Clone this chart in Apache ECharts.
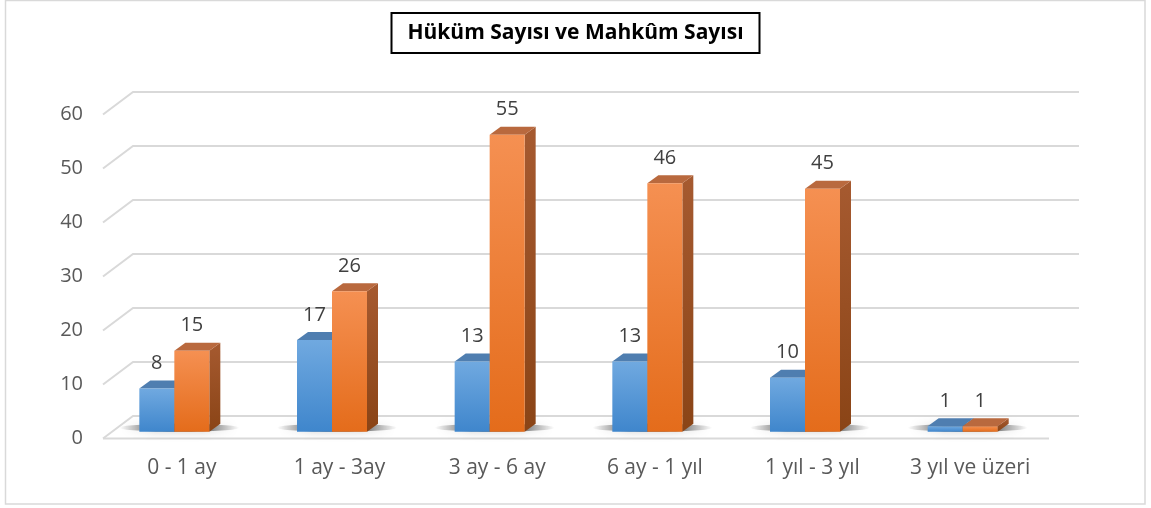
<!DOCTYPE html>
<html>
<head>
<meta charset="utf-8">
<script src="https://cdn.jsdelivr.net/npm/echarts@6/dist/echarts.min.js"></script>
<style>
  html, body { margin: 0; padding: 0; background: #fff; }
  #chart { width: 1151px; height: 508px; }
</style>
</head>
<body>
<div id="chart"></div>
<script>
// chart data
var categories = ['0 - 1 ay', '1 ay - 3ay', '3 ay - 6 ay', '6 ay - 1 yıl', '1 yıl - 3 yıl', '3 yıl ve üzeri'];
var hukum = [8, 17, 13, 13, 10, 1];
var mahkum = [15, 26, 55, 46, 45, 1];
var yTicks = [0, 10, 20, 30, 40, 50, 60];

var FONT = '"Open Sans", "Noto Sans", sans-serif';
// 3d look: depth of the wall and of each bar
var WALL_DX = 30, WALL_DY = 22.5;
var BAR_W = 35, BAR_DX = 11, BAR_DY = 8;
var BAR_SHIFT_X = -7.5, BAR_SHIFT_Y = -6.8;

var chart = echarts.init(document.getElementById('chart'));

function grad(c1, c2) {
  return new echarts.graphic.LinearGradient(0, 0, 0, 1, [
    { offset: 0, color: c1 }, { offset: 1, color: c2 }
  ]);
}

var looks = [
  { front: grad('#70a9e0', '#3f86cc'), top: '#4f7eb0', side: grad('#3f6e9f', '#2f5d8c') },
  { front: grad('#f59052', '#e46c1b'), top: '#b9693e', side: grad('#a65a30', '#8a4416') }
];

function barItem(sIdx) {
  return function (params, api) {
    var i = api.value(0), v = api.value(1);
    var base = api.coord([i, 0]);
    var top = api.coord([i, v]);
    var cx = base[0] + BAR_SHIFT_X;
    var x0 = sIdx === 0 ? cx - BAR_W : cx;
    var x1 = x0 + BAR_W;
    var yb = base[1] + BAR_SHIFT_Y;
    var yt = top[1] + BAR_SHIFT_Y;
    var lk = looks[sIdx];
    return {
      type: 'group',
      children: [
        { type: 'polygon', shape: { points: [[x1, yt], [x1 + BAR_DX, yt - BAR_DY], [x1 + BAR_DX, yb - BAR_DY], [x1, yb]] },
          style: { fill: lk.side } },
        { type: 'polygon', shape: { points: [[x0, yt], [x1, yt], [x1 + BAR_DX, yt - BAR_DY], [x0 + BAR_DX, yt - BAR_DY]] },
          style: { fill: lk.top } },
        { type: 'rect', shape: { x: x0, y: yt, width: BAR_W, height: yb - yt },
          style: { fill: lk.front } },
        { type: 'text', x: x0 + BAR_W / 2, y: yt - 25,
          style: { text: String(v), fill: '#404040', font: '20px ' + FONT, align: 'center', verticalAlign: 'middle' } }
      ]
    };
  };
}

function wallItem(params, api) {
  var t = api.value(0);
  var cs = params.coordSys;
  var L = cs.x, R = cs.x + cs.width;
  var y = api.coord([0, t])[1];
  var kids = [
    { type: 'polyline', shape: { points: [[L, y], [L + WALL_DX, y - WALL_DY], [R + WALL_DX, y - WALL_DY]] },
      style: { stroke: '#d9d9d9', lineWidth: 2, fill: null } }
  ];
  if (t === 0) {
    kids.push({ type: 'line', shape: { x1: L, y1: y, x2: R, y2: y },
      style: { stroke: '#d9d9d9', lineWidth: 2 } });
  }
  return { type: 'group', children: kids };
}

function shadowItem(params, api) {
  var i = api.value(0);
  var base = api.coord([i, 0]);
  var cx = base[0] + BAR_SHIFT_X + 5;
  var cy = base[1] + BAR_SHIFT_Y - 4;
  return {
    type: 'ellipse',
    shape: { cx: cx, cy: cy, rx: 60, ry: 4 },
    style: {
      fill: new echarts.graphic.LinearGradient(0, 0, 1, 0, [
        { offset: 0, color: 'rgba(0,0,0,0)' },
        { offset: 0.3, color: 'rgba(0,0,0,0.55)' },
        { offset: 0.7, color: 'rgba(0,0,0,0.55)' },
        { offset: 1, color: 'rgba(0,0,0,0)' }
      ]),
      shadowBlur: 10, shadowColor: 'rgba(0,0,0,0.35)'
    }
  };
}

var option = {
  animation: false,
  title: {
    text: 'Hüküm Sayısı ve Mahkûm Sayısı',
    left: 'center',
    top: 13,
    padding: [8, 16],
    borderColor: '#000',
    borderWidth: 2,
    textStyle: { fontFamily: FONT, fontSize: 21, fontWeight: 'bold', color: '#000', lineHeight: 24 }
  },
  graphic: [{
    type: 'rect', shape: { x: 5.5, y: 0.5, width: 1139.5, height: 503.5 },
    style: { fill: null, stroke: '#d9d9d9', lineWidth: 1.5 }, silent: true
  }],
  grid: { left: 103, right: 102, top: 114.5, bottom: 69.5 },
  xAxis: {
    type: 'category',
    data: categories,
    axisLine: { show: false },
    axisTick: { show: false },
    axisLabel: { margin: 19, color: '#595959', fontSize: 21, fontFamily: FONT }
  },
  yAxis: {
    type: 'value',
    min: 0, max: 60, interval: 10,
    axisLine: { show: false },
    axisTick: { show: false },
    splitLine: { show: false },
    axisLabel: { margin: 20, color: '#595959', fontSize: 20, fontFamily: FONT }
  },
  series: [
    { type: 'custom', name: 'walls', clip: false, z: 1, silent: true,
      data: yTicks.map(function (t) { return [t]; }), renderItem: wallItem },
    { type: 'custom', name: 'shadows', clip: false, z: 2, silent: true,
      data: categories.map(function (c, i) { return [i]; }), renderItem: shadowItem },
    { type: 'custom', name: 'Hüküm Sayısı', clip: false, z: 3,
      data: hukum.map(function (v, i) { return [i, v]; }), renderItem: barItem(0) },
    { type: 'custom', name: 'Mahkûm Sayısı', clip: false, z: 4,
      data: mahkum.map(function (v, i) { return [i, v]; }), renderItem: barItem(1) }
  ]
};

chart.setOption(option);
</script>
</body>
</html>
